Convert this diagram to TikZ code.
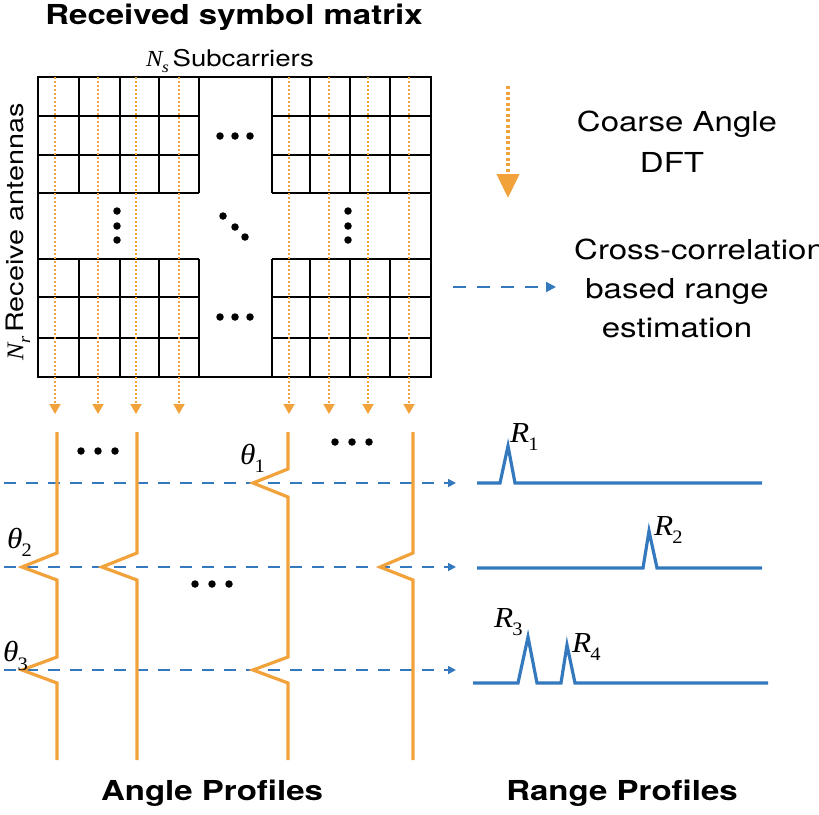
\documentclass[tikz,border=0pt]{standalone}
\usepackage{fontspec}
\setmainfont{TeX Gyre Heros}[FakeStretch=1.2]
\newfontfamily\tim{Liberation Serif}[FakeStretch=1.08]
\usetikzlibrary{arrows.meta}
\definecolor{ora}{RGB}{242,162,58}
\definecolor{blu}{RGB}{52,120,190}
\newcommand\mvar[3][19]{{\tim\itshape #2}\kern-0.03em\raisebox{-0.28em}{\tim\fontsize{#1}{#1}\selectfont #3}}
\tikzset{
  grid/.style={line width=1.3pt, black},
  dft/.style={ora, line width=1.8pt, dash pattern=on 2pt off 2pt, -{Triangle[width=11pt,length=10pt]}},
  prof/.style={ora, line width=3.2pt, line join=miter},
  rng/.style={blu, line width=3.2pt, line join=miter},
  corr/.style={blu, line width=1.6pt, dash pattern=on 12pt off 10pt, -{Triangle[width=8pt,length=8pt]}},
  dot/.style={fill=black, circle, inner sep=0pt, minimum size=7.5pt},
  lbl/.style={font=\fontsize{27.5}{30}\selectfont, inner sep=0pt},
  hdr/.style={font=\fontsize{27.5}{30}\selectfont\bfseries, inner sep=0pt},
  sym/.style={font=\fontsize{29}{30}\selectfont, inner sep=0pt, anchor=west},
}
\begin{document}
\begin{tikzpicture}[x=1pt,y=-1pt]
\useasboundingbox (0,0) rectangle (819,814);
\clip (0,0) rectangle (819,814);
% ---------- titles ----------
\node[hdr] (title) at (234,17) {Received symbol matrix};
\node[font=\fontsize{23}{26}\selectfont, inner sep=0pt] (sub) at (230,61) {\mvar[16]{N}{\itshape s}\,Subcarriers};
\node[font=\fontsize{24}{26}\selectfont, inner sep=0pt, rotate=90] (ant) at (18,232) {\mvar[17]{N}{\itshape r}\,Receive antennas};
% ---------- matrix ----------
\draw[grid] (38,77) rectangle (431,377);
\foreach \y in {116,155,193}{
  \draw[grid] (38,\y) -- (199,\y);
  \draw[grid] (272,\y) -- (431,\y);}
\foreach \y in {259,297,338}{
  \draw[grid] (38,\y) -- (199,\y);
  \draw[grid] (272,\y) -- (431,\y);}
\foreach \x in {79,120,159,199,272,310,350,390}{
  \draw[grid] (\x,77) -- (\x,193);
  \draw[grid] (\x,259) -- (\x,377);}
% dots inside matrix
\foreach \x in {220,235,250}{
  \node[dot] at (\x,136) {};
  \node[dot] at (\x,317) {};}
\foreach \y in {211,226,240}{
  \node[dot] at (117,\y) {};
  \node[dot] at (348,\y) {};}
\node[dot] at (223,216) {};
\node[dot] at (235,227) {};
\node[dot] at (245,237) {};
% ---------- DFT arrows ----------
\foreach \x [count=\i] in {55,98,136,179,289,329,368,409}{
  \coordinate (s\i) at (\x,77);
  \coordinate (e\i) at (\x,414);
  \draw[dft] (s\i) -- (e\i);}
% ---------- legend ----------
\coordinate (la1) at (508,86);
\coordinate (la2) at (508,198);
\draw[ora, line width=4pt, dash pattern=on 3pt off 2.5pt, -{Triangle[width=22pt,length=24pt]}] (la1) -- (la2);
\node[lbl] (coarse) at (677,124) {Coarse Angle};
\node[lbl] (dftl) at (672,162) {DFT};
\coordinate (lb1) at (453,287);
\coordinate (lb2) at (556,287);
\draw[blu, line width=2pt, dash pattern=on 13pt off 11pt, -{Triangle[width=10pt,length=10pt]}] (lb1) -- (lb2);
\node[lbl, anchor=west] (cross) at (574,249) {Cross-correlation};
\node[lbl] (based) at (677,291) {based range};
\node[lbl] (estim) at (677,328) {estimation};
% ---------- correlation lines ----------
\foreach \y [count=\i] in {483,567,670}{
  \coordinate (c\i a) at (4,\y);
  \coordinate (c\i b) at (456,\y);
  \draw[corr] (c\i a) -- (c\i b);}
% ---------- angle profiles ----------
\draw[prof] (57,432) -- (57,553) -- (22,567) -- (57,580) -- (57,657) -- (22,670) -- (57,683) -- (57,760);
\draw[prof] (137,432) -- (137,553) -- (102,567) -- (137,580) -- (137,760);
\draw[prof] (288,432) -- (288,469) -- (253,483) -- (288,497) -- (288,657) -- (253,670) -- (288,683) -- (288,760);
\draw[prof] (413,432) -- (413,553) -- (380,567) -- (413,580) -- (413,760);
\foreach \x in {81,98,115}{\node[dot] at (\x,451) {};}
\foreach \x in {335,352,369}{\node[dot] at (\x,442) {};}
\foreach \x in {195,212,229}{\node[dot] at (\x,584) {};}
\node[sym] (t1) at (240,458) {\mvar{θ}{1}};
\node[sym] (t2) at (7,542) {\mvar{θ}{2}};
\node[sym] (t3) at (3,656) {\mvar{θ}{3}};
% ---------- range profiles ----------
\draw[rng] (477,483) -- (500,483) -- (508,446) -- (515,483) -- (762,483);
\draw[rng] (477,568) -- (643,568) -- (649,531) -- (657,568) -- (762,568);
\draw[rng] (473,683) -- (518,683) -- (528,637) -- (537,683) -- (561,683) -- (567,645) -- (575,683) -- (768,683);
\node[sym] (r1) at (510,437) {\mvar{R}{1}};
\node[sym] (r2) at (654,530) {\mvar{R}{2}};
\node[sym] (r3) at (494,622) {\mvar{R}{3}};
\node[sym] (r4) at (572,647) {\mvar{R}{4}};
% ---------- bottom labels ----------
\node[hdr] (ang) at (212,793) {Angle Profiles};
\node[hdr] (rngl) at (622,793) {Range Profiles};
\end{tikzpicture}
\end{document}
